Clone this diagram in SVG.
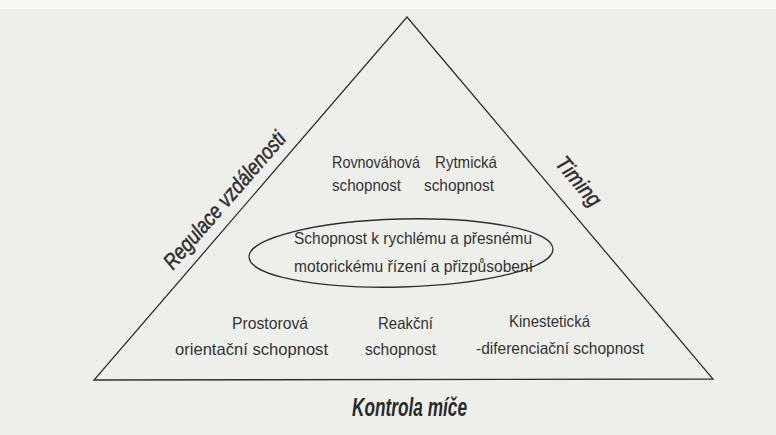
<svg xmlns="http://www.w3.org/2000/svg" width="776" height="435" viewBox="0 0 776 435">
  <style>
    .ln { fill: none; stroke: #2e2e2e; stroke-width: 1.3; stroke-linejoin: miter; }
    .t { font-family: "Liberation Sans", Arial, sans-serif; font-size: 16.5px; fill: #333; }
    .side { font-family: "Liberation Sans", Arial, sans-serif; font-size: 22px; font-style: italic; fill: #2e2e2e; stroke: #2e2e2e; stroke-width: 0.5; }
    .base { font-family: "Liberation Sans", Arial, sans-serif; font-size: 25px; font-style: italic; font-weight: bold; fill: #2a2a2a; }
  </style>
  <rect x="0" y="0" width="776" height="435" fill="#eeefea"/>
  <rect x="0" y="0" width="776" height="9" fill="#f8f8f6"/>

  <g id="triangle">
    <polygon class="ln" points="407,17 713,379 94,380"/>
  </g>

  <g id="side-left">
    <text class="side" transform="translate(230,205) rotate(-49)" text-anchor="middle" textLength="174" lengthAdjust="spacingAndGlyphs">Regulace vzdálenosti</text>
  </g>
  <g id="side-right">
    <text class="side" transform="translate(573,186) rotate(49.8)" text-anchor="middle" textLength="58" lengthAdjust="spacingAndGlyphs">Timing</text>
  </g>
  <g id="side-bottom">
    <text class="base" x="352" y="416" textLength="115" lengthAdjust="spacingAndGlyphs">Kontrola míče</text>
  </g>

  <g id="rovnovahova">
    <text class="t" x="332" y="168" textLength="88" lengthAdjust="spacingAndGlyphs">Rovnováhová</text>
    <text class="t" x="332" y="191" textLength="69" lengthAdjust="spacingAndGlyphs">schopnost</text>
  </g>
  <g id="rytmicka">
    <text class="t" x="435" y="168" textLength="62" lengthAdjust="spacingAndGlyphs">Rytmická</text>
    <text class="t" x="424" y="191" textLength="70" lengthAdjust="spacingAndGlyphs">schopnost</text>
  </g>

  <g id="center">
    <ellipse class="ln" cx="401" cy="253" rx="152" ry="34" transform="rotate(-1.5 401 253)"/>
    <text class="t" x="294" y="244" textLength="238" lengthAdjust="spacingAndGlyphs">Schopnost k rychlému a přesnému</text>
    <text class="t" x="294" y="272" textLength="239" lengthAdjust="spacingAndGlyphs">motorickému řízení a přizpůsobení</text>
  </g>

  <g id="prostorova">
    <text class="t" x="232" y="329" textLength="76" lengthAdjust="spacingAndGlyphs">Prostorová</text>
    <text class="t" x="175" y="355" textLength="153" lengthAdjust="spacingAndGlyphs">orientační schopnost</text>
  </g>
  <g id="reakcni">
    <text class="t" x="378" y="329" textLength="55" lengthAdjust="spacingAndGlyphs">Reakční</text>
    <text class="t" x="365" y="355" textLength="71" lengthAdjust="spacingAndGlyphs">schopnost</text>
  </g>
  <g id="kinesteticka">
    <text class="t" x="509" y="327" textLength="81" lengthAdjust="spacingAndGlyphs">Kinestetická</text>
    <text class="t" x="476" y="354" textLength="168" lengthAdjust="spacingAndGlyphs">-diferenciační schopnost</text>
  </g>

  <g id="connectors"></g>
</svg>
